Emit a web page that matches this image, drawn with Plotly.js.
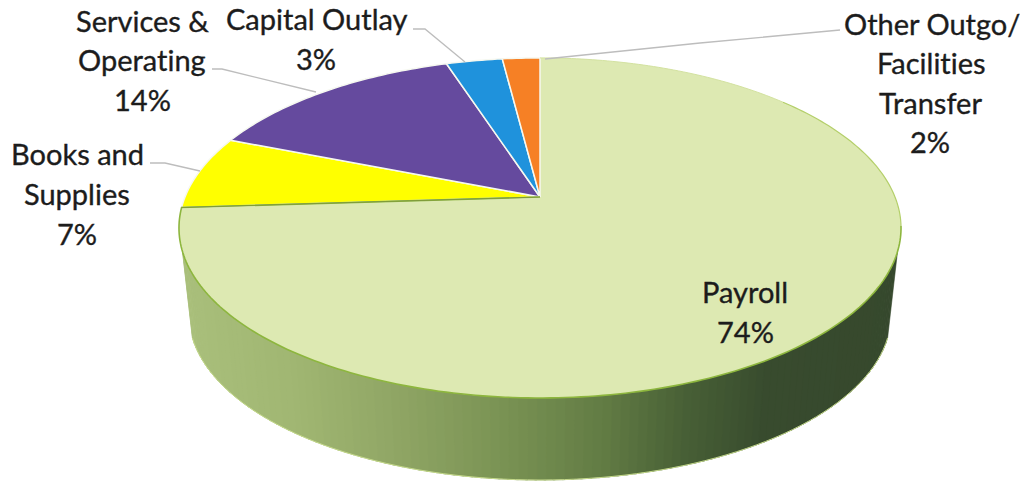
<!DOCTYPE html>
<html>
<head>
<meta charset="utf-8">
<script src="https://cdn.plot.ly/plotly-3.0.1.min.js"></script>
<style>
html,body{margin:0;padding:0;background:#fff;overflow:hidden}
.annotation-text{font-variant-ligatures:none;font-feature-settings:"liga" 0;stroke:#1C1C1C;stroke-width:.35px}
</style>
</head>
<body>
<div id="chart" style="width:1024px;height:485px"></div>
<script>
// Budget shares, clockwise from twelve o'clock
const categories = ['Payroll', 'Books and Supplies', 'Services & Operating', 'Capital Outlay', 'Other Outgo/Facilities Transfer'];
const shares = [74, 7, 14, 3, 2];
const sliceColors = ['#DDE9B2', '#FFFF00', '#654A9E', '#1F92DC', '#F68025'];

// Label text, one row per line
const labelLines = ['Services &', 'Operating', '14%', 'Capital Outlay', '3%', 'Other Outgo/', 'Facilities', 'Transfer', '2%', 'Books and', 'Supplies', '7%', 'Payroll', '74%'];
const labelX = [142, 142, 142, 317, 316, 932, 931, 930, 930, 77, 77, 77, 745, 745];
const labelY = [20, 59, 99, 18, 58, 23, 62, 102, 141, 153, 193, 233, 291, 331];

// Leader lines from labels to slices
const leaders = [
  {x: [150, 165, 200], y: [163, 163, 171]},
  {x: [212, 222, 316], y: [69, 69, 92]},
  {x: [413, 425, 465], y: [29, 29, 62]},
  {x: [840, 700, 545], y: [30, 43, 59]}
];

// Rim shading across the width of the disc
const rimStopX = [180, 300, 400, 500, 600, 680, 760, 900];
const rimStopRGB = [[170, 192, 124], [160, 182, 114], [143, 165, 100], [122, 147, 84], [98, 124, 68], [72, 96, 54], [56, 75, 46], [54, 72, 45]];

// Disc projection: perspective view of the top face
const apex = {x: 540, y: 197}, scaleX = 355, scaleY = 164.4, tilt = 0.182;
function facePoint(deg, r) {
  const t = deg * Math.PI / 180, u = r * Math.sin(t), v = r * Math.cos(t), w = 1 + tilt * v;
  return [apex.x + scaleX * u / w, apex.y - scaleY * v / w];
}
// Silhouette ellipses of the rim
const rimTop = {x: 540, y: 228, rx: 361, ry: 170};
const rimBottom = {x: 540, y: 315, rx: 351, ry: 165};
function ellipsePoint(e, deg) {
  const t = deg * Math.PI / 180;
  return [e.x + e.rx * Math.cos(t), e.y + e.ry * Math.sin(t)];
}
function rimColor(x) {
  let i = 0;
  while (i < rimStopX.length - 2 && x > rimStopX[i + 1]) i++;
  const f = Math.max(0, Math.min(1, (x - rimStopX[i]) / (rimStopX[i + 1] - rimStopX[i])));
  const c = rimStopRGB[i].map((a, k) => Math.round(a + (rimStopRGB[i + 1][k] - a) * f));
  return `rgb(${c[0]},${c[1]},${c[2]})`;
}

const traces = [];
function addPoly(pts, fill, line, width) {
  traces.push({
    type: 'scatter', mode: 'lines', x: pts.map(p => p[0]), y: pts.map(p => p[1]),
    fill: fill ? 'toself' : 'none', fillcolor: fill || undefined,
    line: {color: line || fill, width: width === undefined ? 1 : width, simplify: false},
    hoverinfo: 'skip', showlegend: false
  });
}

// Rim, built from thin strips so the shading runs smoothly
for (let a = 8; a < 172; a += 1.5) {
  const b = Math.min(a + 1.9, 172);
  const p1 = ellipsePoint(rimTop, a), p2 = ellipsePoint(rimTop, b);
  const q1 = ellipsePoint(rimBottom, a), q2 = ellipsePoint(rimBottom, b);
  const col = rimColor((q1[0] + q2[0]) / 2);
  addPoly([p1, p2, q2, q1, p1], col, col, 0.6);
}
// Light halo along the lower rim edge
const rimEdge = [];
for (let a = 8; a <= 172; a += 2) rimEdge.push(ellipsePoint(rimBottom, a));
addPoly(rimEdge, null, '#C4D98A', 1);

// Top face slices
const total = shares.reduce((s, v) => s + v, 0);
let start = 0;
let payrollEdge = [];
shares.forEach((share, i) => {
  const sweep = share / total * 360;
  const arc = [];
  for (let k = 0; k <= Math.ceil(sweep); k++) arc.push(facePoint(start + sweep * k / Math.ceil(sweep), 1));
  const pts = [facePoint(0, 0), ...arc, facePoint(0, 0)];
  addPoly(pts, sliceColors[i], i === 0 ? sliceColors[i] : '#F6F8F0', i === 0 ? 0 : 1.5);
  if (i === 0) payrollEdge = arc.concat([facePoint(0, 0)]);
  start += sweep;
});
// Green outline around the large slice: faint along the back, stronger at the front
addPoly(payrollEdge.slice(100), null, '#8DB63E', 1.6);
addPoly(payrollEdge.slice(50, 101), null, '#B4CF6A', 1.2);
addPoly(payrollEdge.slice(0, 51), null, '#D3E2A0', 1);
addPoly(payrollEdge.slice(-2), null, '#7F9A3A', 1);

leaders.forEach(l => traces.push({
  type: 'scatter', mode: 'lines', x: l.x, y: l.y,
  line: {color: '#BDBDBD', width: 1.3}, hoverinfo: 'skip', showlegend: false
}));

const annotations = labelLines.map((t, i) => ({
  text: t, x: labelX[i], y: labelY[i], xref: 'x', yref: 'y',
  xanchor: 'center', yanchor: 'middle', showarrow: false,
  font: {family: 'Lato, "Open Sans", sans-serif', size: 29, color: '#1C1C1C'}
}));

const hidden = {visible: false, fixedrange: true};
Plotly.newPlot('chart', traces, {
  width: 1024, height: 485,
  margin: {l: 0, r: 0, t: 0, b: 0},
  paper_bgcolor: '#FFFFFF', plot_bgcolor: '#FFFFFF',
  showlegend: false, hovermode: false,
  xaxis: Object.assign({range: [0, 1024]}, hidden),
  yaxis: Object.assign({range: [485, 0]}, hidden),
  annotations
}, {displayModeBar: false, staticPlot: true});
</script>
</body>
</html>
